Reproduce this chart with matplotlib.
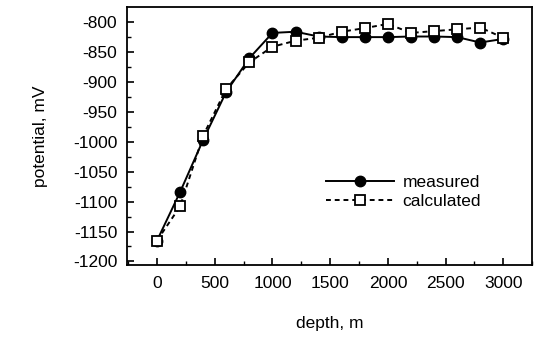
import numpy as np
import matplotlib
matplotlib.use('Agg')
import matplotlib.pyplot as plt
from matplotlib.ticker import MultipleLocator

# depth in m, potential in mV
depth = [0, 200, 400, 600, 800, 1000, 1200, 1400, 1600, 1800,
         2000, 2200, 2400, 2600, 2800, 3000]
measured = [-1165, -1084, -997, -917, -861, -819, -817, -825, -826, -826,
            -826, -825, -825, -826, -835, -829]
calculated = [-1165, -1108, -990, -912, -868, -842, -832, -827, -817, -811,
              -804, -819, -816, -813, -810, -827]

plt.rcParams['font.family'] = ['Liberation Sans', 'DejaVu Sans']
plt.rcParams['font.size'] = 12.5
plt.rcParams['axes.unicode_minus'] = False

fig = plt.figure(figsize=(5.43, 3.39), dpi=100)
ax = fig.add_axes([0.234, 0.218, 0.746, 0.761])

ax.plot(depth, measured, color='black', lw=1.4, marker='o', ms=7.5,
        mfc='black', mec='black', label='measured', zorder=3)
ax.plot(depth, calculated, color='black', lw=1.4, ls=(0, (2.5, 2)),
        marker='s', ms=7.5, mfc='white', mec='black', mew=1.3,
        label='calculated', zorder=4)

ax.set_xlim(-260, 3250)
ax.set_ylim(-1206, -776)
ax.xaxis.set_major_locator(MultipleLocator(500))
ax.xaxis.set_minor_locator(MultipleLocator(250))
ax.yaxis.set_major_locator(MultipleLocator(50))
ax.yaxis.set_minor_locator(MultipleLocator(25))
ax.tick_params(which='both', direction='in', top=False, right=False)
ax.tick_params(which='major', length=5, width=1.2)
ax.tick_params(which='minor', length=3, width=1)
ax.tick_params(axis='x', which='major', pad=8)
ax.tick_params(axis='y', which='major', pad=7)
for s in ax.spines.values():
    s.set_linewidth(1.3)

ax.set_xlabel('depth, m', labelpad=18)
ax.set_ylabel('potential, mV', labelpad=18)

ax.legend(loc='center left', bbox_to_anchor=(0.47, 0.283), frameon=False,
          handlelength=3.9, handletextpad=0.5, labelspacing=0.2,
          borderpad=0.0)

fig.savefig('out.png', dpi=100)
